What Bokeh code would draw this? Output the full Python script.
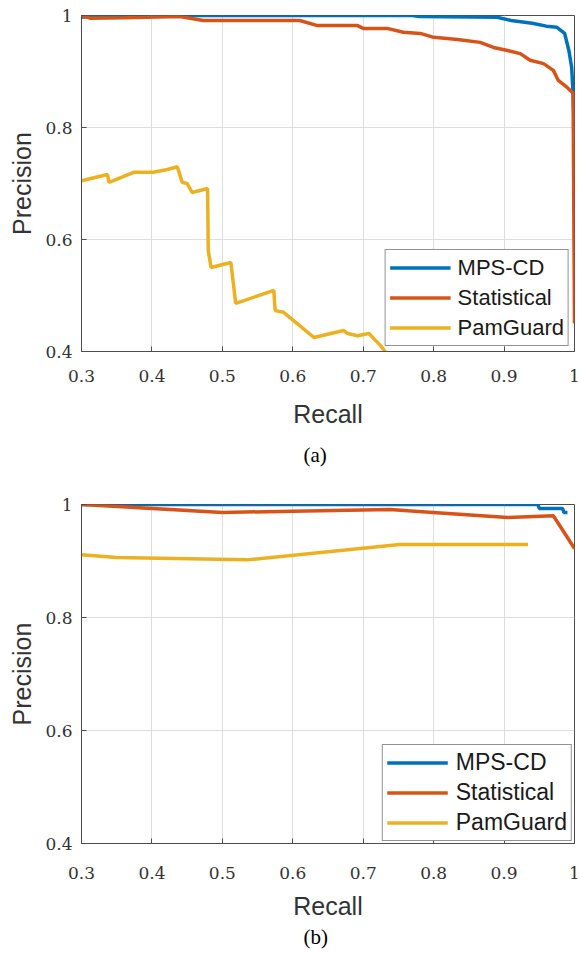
from bokeh.plotting import figure
from bokeh.layouts import column
from bokeh.models import (ColumnDataSource, FixedTicker, PrintfTickFormatter,
                          Range1d, Title, Legend, LegendItem)
from bokeh.embed import file_html
from bokeh.resources import INLINE

# ---------------- data: panel (a) ----------------
a_mps_recall = [0.30, 0.32, 0.77, 0.78, 0.89, 0.91, 0.94, 0.96, 0.975, 0.986,
                0.992, 0.996, 0.998, 1.0]
a_mps_precision = [0.997, 1.0, 1.0, 0.998, 0.997, 0.991, 0.986, 0.981, 0.979,
                   0.968, 0.9375, 0.907, 0.861, 0.78]

a_stat_recall = [0.30, 0.313, 0.36, 0.44, 0.473, 0.61, 0.635, 0.692, 0.70,
                 0.734, 0.757, 0.781, 0.80, 0.834, 0.866, 0.885, 0.905, 0.923,
                 0.937, 0.956, 0.97, 0.977, 0.99, 0.998, 1.0]
a_stat_precision = [1.0, 0.995, 0.996, 0.998, 0.991, 0.991, 0.982, 0.982,
                    0.977, 0.977, 0.970, 0.968, 0.961, 0.957, 0.952, 0.943,
                    0.9375, 0.932, 0.920, 0.914, 0.902, 0.884, 0.871, 0.861,
                    0.45]

a_pam_recall = [0.30, 0.337, 0.339, 0.374, 0.402, 0.422, 0.436, 0.443, 0.45,
                0.457, 0.479, 0.48, 0.484, 0.512, 0.519, 0.573, 0.575, 0.587,
                0.611, 0.63, 0.672, 0.678, 0.692, 0.708, 0.725, 0.74]
a_pam_precision = [0.705, 0.716, 0.702, 0.72, 0.72, 0.725, 0.73, 0.702, 0.70,
                   0.684, 0.691, 0.58, 0.55, 0.559, 0.486, 0.509, 0.473, 0.47,
                   0.445, 0.425, 0.4375, 0.432, 0.428, 0.432, 0.41, 0.385]

# ---------------- data: panel (b) ----------------
b_mps_recall = [0.30, 0.948, 0.95, 0.983, 0.985, 0.99]
b_mps_precision = [1.0, 1.0, 0.993, 0.993, 0.986, 0.986]

b_stat_recall = [0.30, 0.50, 0.60, 0.738, 0.799, 0.905, 0.97, 1.0]
b_stat_precision = [1.0, 0.986, 0.988, 0.991, 0.986, 0.977, 0.98, 0.922]

b_pam_recall = [0.30, 0.35, 0.535, 0.752, 0.934]
b_pam_precision = [0.911, 0.906, 0.902, 0.929, 0.929]

series_names = ["MPS-CD", "Statistical", "PamGuard"]
x_ticks = [0.3, 0.4, 0.5, 0.6, 0.7, 0.8, 0.9, 1.0]
y_ticks = [0.4, 0.6, 0.8, 1.0]
captions = ["(a)", "(b)"]

COLORS = ["#0072BD", "#D95319", "#EDB120"]
AX = "#4d4d4d"
TXT = "#333333"


def make_panel(series, caption, height, top, bottom, tick_standoff,
               label_standoff, cap_standoff, legend_margin, legend_font,
               legend_standoff):
    p = figure(width=580, height=height, output_backend="svg",
               toolbar_location=None,
               x_range=Range1d(0.3, 1.0), y_range=Range1d(0.4, 1.0),
               min_border_left=81, min_border_right=6,
               min_border_top=top, min_border_bottom=bottom)
    p.background_fill_color = "white"
    p.border_fill_color = "white"
    p.outline_line_color = AX
    p.outline_line_width = 1

    items = []
    for (xs, ys), name, col in zip(series, series_names, COLORS):
        src = ColumnDataSource(dict(x=xs, y=ys))
        r = p.line("x", "y", source=src, line_color=col, line_width=3.5)
        items.append(LegendItem(label=name, renderers=[r]))

    for ax, ticks in ((p.xaxis[0], x_ticks), (p.yaxis[0], y_ticks)):
        ax.ticker = FixedTicker(ticks=ticks)
        ax.formatter = PrintfTickFormatter(format="%g")
        ax.major_tick_in = 5
        ax.major_tick_out = 0
        ax.minor_tick_line_color = None
        ax.axis_line_color = AX
        ax.major_tick_line_color = AX
        ax.major_label_text_font = "DejaVu Serif"
        ax.major_label_text_font_size = "17px"
        ax.major_label_text_color = TXT
        ax.axis_label_text_font = "Liberation Sans"
        ax.axis_label_text_font_size = "25px"
        ax.axis_label_text_font_style = "normal"
        ax.axis_label_text_color = TXT

    p.xaxis[0].axis_label = "Recall"
    p.yaxis[0].axis_label = "Precision"
    p.xaxis[0].major_label_standoff = tick_standoff
    p.xaxis[0].axis_label_standoff = label_standoff
    p.yaxis[0].major_label_standoff = 9
    p.yaxis[0].axis_label_standoff = 6

    for g, ticks in ((p.xgrid[0], x_ticks), (p.ygrid[0], y_ticks)):
        g.ticker = FixedTicker(ticks=ticks)
        g.grid_line_color = "#dedede"
        g.grid_line_width = 1

    legend = Legend(items=items, location="bottom_right")
    legend.label_text_font = "Liberation Sans"
    legend.label_text_font_size = legend_font
    legend.label_text_color = "#1a1a1a"
    legend.glyph_width = 61
    legend.glyph_height = 27
    legend.label_height = 27
    legend.label_standoff = legend_standoff
    legend.spacing = 3
    legend.padding = 4
    legend.margin = legend_margin
    legend.border_line_color = "#262626"
    legend.border_line_width = 1
    legend.background_fill_color = "white"
    legend.background_fill_alpha = 1
    p.add_layout(legend)

    p.add_layout(Title(text=caption, align="left", offset=222,
                       vertical_align="top", standoff=cap_standoff,
                       text_font="Liberation Serif", text_font_size="21px",
                       text_font_style="normal", text_color="black"), "below")
    return p


p1 = make_panel([(a_mps_recall, a_mps_precision),
                 (a_stat_recall, a_stat_precision),
                 (a_pam_recall, a_pam_precision)],
                captions[0], 486, 15, 135, 18, 15, 25, 5, "22px", 7)
p2 = make_panel([(b_mps_recall, b_mps_precision),
                 (b_stat_recall, b_stat_precision),
                 (b_pam_recall, b_pam_precision)],
                captions[1], 472, 18, 115, 23, 10, 5, 2, "23px", 8)

layout = column(p1, p2, spacing=0)
open("out.html", "w").write(file_html(layout, INLINE))
